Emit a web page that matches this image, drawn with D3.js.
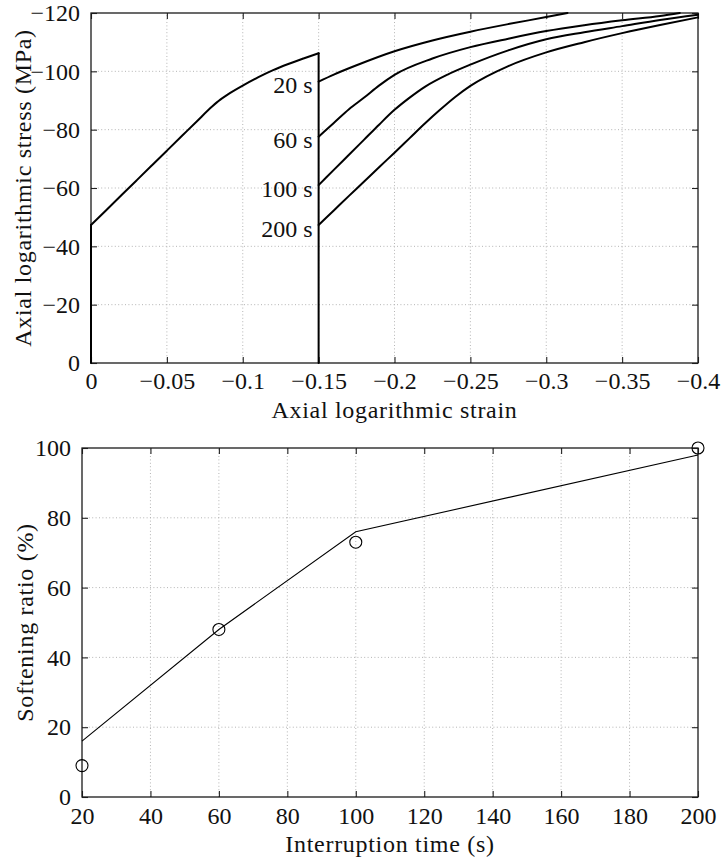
<!DOCTYPE html>
<html>
<head>
<meta charset="utf-8">
<script src="https://cdn.jsdelivr.net/npm/d3@7"></script>
<style>
  html, body { margin: 0; padding: 0; background: #fff; }
  svg { display: block; }
</style>
</head>
<body>
<script>
// ---------------- DATA ----------------
// Top panel: stress-strain curves (strain and stress are negative = compression)
const strainTicks = [0, -0.05, -0.1, -0.15, -0.2, -0.25, -0.3, -0.35, -0.4];
const stressTicks = [0, -20, -40, -60, -80, -100, -120];

const loadStrain = [0, 0, -0.01, -0.02, -0.03, -0.04, -0.05, -0.06, -0.07, -0.08, -0.085, -0.09, -0.1, -0.11, -0.12, -0.13, -0.14, -0.15, -0.15];
const loadStress = [0, -47.3, -52.4, -57.5, -62.6, -67.7, -72.8, -77.9, -83.0, -88.0, -90.2, -92.0, -95.1, -97.9, -100.4, -102.5, -104.4, -106.2, 0];

const reloadLabels = ["20 s", "60 s", "100 s", "200 s"];

const reload20Strain = [-0.15, -0.16, -0.175, -0.2, -0.225, -0.25, -0.275, -0.3, -0.314];
const reload20Stress = [-96.5, -98.9, -102.1, -106.9, -110.6, -113.6, -116.2, -118.6, -120];

const reload60Strain = [-0.15, -0.16, -0.17, -0.18, -0.19, -0.2, -0.225, -0.25, -0.275, -0.3, -0.325, -0.35, -0.375, -0.388];
const reload60Stress = [-77.6, -82.3, -87.0, -91.0, -95.2, -98.8, -104.4, -108.3, -111.2, -113.8, -115.8, -117.5, -119.0, -120];

const reload100Strain = [-0.15, -0.16, -0.17, -0.18, -0.19, -0.2, -0.21, -0.22, -0.235, -0.25, -0.275, -0.3, -0.325, -0.35, -0.375, -0.4];
const reload100Stress = [-61.0, -66.2, -71.4, -76.6, -81.8, -86.8, -91.0, -94.7, -98.9, -102.3, -107.2, -111.0, -113.4, -115.5, -117.6, -119.4];

const reload200Strain = [-0.15, -0.16, -0.17, -0.18, -0.19, -0.2, -0.21, -0.22, -0.23, -0.24, -0.25, -0.275, -0.3, -0.325, -0.35, -0.375, -0.4];
const reload200Stress = [-47.3, -52.3, -57.3, -62.2, -67.2, -72.1, -77.1, -82.1, -86.8, -91.2, -95.0, -101.8, -106.5, -110.0, -113.1, -115.9, -118.5];

// Bottom panel: softening ratio vs interruption time
const timeTicks = [20, 40, 60, 80, 100, 120, 140, 160, 180, 200];
const ratioTicks = [0, 20, 40, 60, 80, 100];
const interruptionTimes = [20, 60, 100, 200];
const softeningMeasured = [9, 48, 73, 100];
const softeningFit = [16, 48, 76, 98];

// ---------------- DRAWING ----------------
const W = 725, H = 862;
const FONT = "Liberation Serif";
const FS = 24;
const MINUS = "\u2212";

const svg = d3.select("body").append("svg")
  .attr("width", W).attr("height", H)
  .style("font-family", FONT);

function fmtSigned(v) {
  if (v === 0) return "0";
  return (v < 0 ? MINUS : "") + String(Math.abs(v));
}

function drawFrame(g, x, y, xt, yt, xFmt, yFmt, padX, padY) {
  const [x0, x1] = x.range();
  const [y0, y1] = y.range();
  const grid = g.append("g").attr("stroke", "#adadad").attr("stroke-width", 0.9)
    .attr("stroke-dasharray", "1,2.4");
  grid.selectAll(".gx").data(xt.filter(v => x(v) > Math.min(x0, x1) + 1 && x(v) < Math.max(x0, x1) - 1))
    .join("line").attr("x1", d => x(d)).attr("x2", d => x(d)).attr("y1", y0).attr("y2", y1);
  grid.selectAll(".gy").data(yt.filter(v => y(v) < Math.max(y0, y1) - 1 && y(v) > Math.min(y0, y1) + 1))
    .join("line").attr("y1", d => y(d)).attr("y2", d => y(d)).attr("x1", x0).attr("x2", x1);

  const style = sel => {
    sel.select(".domain").remove();
    sel.attr("font-family", null).attr("font-size", null);
    sel.selectAll(".tick line").attr("stroke", "#222").attr("stroke-width", 1.1);
    sel.selectAll(".tick text").attr("fill", "#111");
  };
  g.append("g").attr("transform", `translate(0,${y0})`)
    .call(d3.axisBottom(x).tickValues(xt).tickFormat(xFmt).tickSize(-6).tickPadding(padX)).call(style);
  g.append("g").attr("transform", `translate(0,${y1})`)
    .call(d3.axisTop(x).tickValues(xt).tickFormat("").tickSize(-6)).call(style);
  g.append("g").attr("transform", `translate(${x0},0)`)
    .call(d3.axisLeft(y).tickValues(yt).tickFormat(yFmt).tickSize(-6).tickPadding(padY)).call(style);
  g.append("g").attr("transform", `translate(${x1},0)`)
    .call(d3.axisRight(y).tickValues(yt).tickFormat("").tickSize(-6)).call(style);

  g.append("rect").attr("x", x0).attr("y", y1).attr("width", x1 - x0).attr("height", y0 - y1)
    .attr("fill", "none").attr("stroke", "#1a1a1a").attr("stroke-width", 1.3);
}

// ---------- Top panel ----------
const xs = d3.scaleLinear().domain([0, -0.4]).range([91, 698]);
const ys = d3.scaleLinear().domain([0, -120]).range([363, 13]);
const topG = svg.append("g");
drawFrame(topG, xs, ys, strainTicks, stressTicks, fmtSigned, fmtSigned, 9, 11);

function drawSeries(g, strains, stresses, width) {
  const pts = strains.map((s, i) => [s, stresses[i]]);
  const segs = [];
  let cur = [pts[0]];
  for (let i = 1; i < pts.length; i++) {
    if (pts[i][0] === pts[i - 1][0]) {
      if (cur.length > 1) segs.push({ p: cur, smooth: true });
      segs.push({ p: [pts[i - 1], pts[i]], smooth: false });
      cur = [pts[i]];
    } else cur.push(pts[i]);
  }
  if (cur.length > 1) segs.push({ p: cur, smooth: true });
  segs.forEach(s => {
    const line = d3.line().x(d => xs(d[0])).y(d => ys(d[1]))
      .curve(s.smooth ? d3.curveMonotoneX : d3.curveLinear);
    g.append("path").attr("d", line(s.p)).attr("fill", "none")
      .attr("stroke", "#000").attr("stroke-width", width)
      .attr("stroke-linecap", "round").attr("stroke-linejoin", "round");
  });
}

const curves = topG.append("g");
drawSeries(curves, loadStrain, loadStress, 2);
const reloads = [
  [reload20Strain, reload20Stress],
  [reload60Strain, reload60Stress],
  [reload100Strain, reload100Stress],
  [reload200Strain, reload200Stress]
];
reloads.forEach(([s, t]) => drawSeries(curves, s, t, 2));

topG.append("g").selectAll("text").data(reloads)
  .join("text")
  .attr("x", d => xs(d[0][0]) - 6)
  .attr("y", d => ys(d[1][0]) + 11.5)
  .attr("text-anchor", "end")
  .attr("fill", "#111")
  .text((d, i) => reloadLabels[i]);

const titles = [];
titles.push(topG.append("text").attr("x", (xs.range()[0] + xs.range()[1]) / 2).attr("y", 418)
  .attr("text-anchor", "middle").attr("fill", "#111")
  .text("Axial logarithmic strain"));
titles.push(topG.append("text")
  .attr("transform", `translate(31,${(ys.range()[0] + ys.range()[1]) / 2}) rotate(-90)`)
  .attr("text-anchor", "middle").attr("fill", "#111")
  .text("Axial logarithmic stress (MPa)"));

// ---------- Bottom panel ----------
const xb = d3.scaleLinear().domain([20, 200]).range([82, 698]);
const yb = d3.scaleLinear().domain([0, 100]).range([797, 448]);
const botG = svg.append("g");
drawFrame(botG, xb, yb, timeTicks, ratioTicks, d => String(d), d => String(d), 10, 11);

const fitLine = d3.line().x((d, i) => xb(interruptionTimes[i])).y(d => yb(d));
botG.append("path").attr("d", fitLine(softeningFit)).attr("fill", "none")
  .attr("stroke", "#000").attr("stroke-width", 1.1);
botG.append("g").selectAll("circle").data(softeningMeasured).join("circle")
  .attr("cx", (d, i) => xb(interruptionTimes[i])).attr("cy", d => yb(d))
  .attr("r", 6).attr("fill", "none").attr("stroke", "#000").attr("stroke-width", 1.1);

titles.push(botG.append("text").attr("x", (xb.range()[0] + xb.range()[1]) / 2).attr("y", 852)
  .attr("text-anchor", "middle").attr("fill", "#111")
  .text("Interruption time (s)"));
titles.push(botG.append("text")
  .attr("transform", `translate(33,${(yb.range()[0] + yb.range()[1]) / 2}) rotate(-90)`)
  .attr("text-anchor", "middle").attr("fill", "#111")
  .text("Softening ratio (%)"));

// apply font to every text element directly
svg.selectAll("text").style("font-family", FONT).style("font-size", FS + "px");
titles.forEach(t => t.style("letter-spacing", "0.7px"));
</script>
</body>
</html>
